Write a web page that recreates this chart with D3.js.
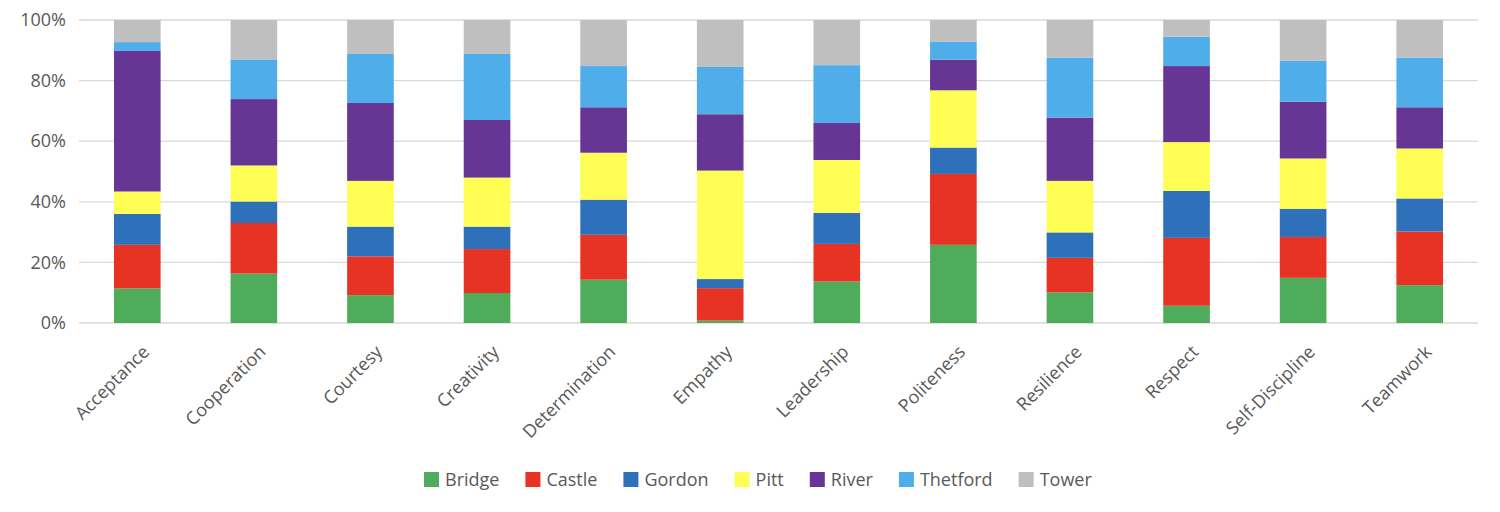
<!DOCTYPE html>
<html>
<head>
<meta charset="utf-8">
<script src="https://cdn.jsdelivr.net/npm/d3@7"></script>
<style>
  html, body { margin: 0; padding: 0; background: #ffffff; }
  svg { display: block; }
  text { font-family: "Open Sans", "Liberation Sans", sans-serif; fill: #595959; }
</style>
</head>
<body>
<svg id="chart" width="1500" height="512"></svg>
<script>
const categories = ["Acceptance", "Cooperation", "Courtesy", "Creativity", "Determination", "Empathy",
  "Leadership", "Politeness", "Resilience", "Respect", "Self-Discipline", "Teamwork"];
const seriesNames = ["Bridge", "Castle", "Gordon", "Pitt", "River", "Thetford", "Tower"];
const seriesColors = ["#4EAC5B", "#E73323", "#2F70BA", "#FEFE54", "#673695", "#4FADEA", "#BFBFBF"];

const bridge   = [11.4, 16.3,  9.2,  9.9, 14.3,  0.8, 13.7, 25.8, 10.1,  5.7, 14.9, 12.5];
const castle   = [14.4, 16.7, 12.8, 14.5, 14.8, 10.7, 12.4, 23.4, 11.4, 22.4, 13.5, 17.7];
const gordon   = [10.2,  7.1,  9.8,  7.4, 11.6,  3.0, 10.2,  8.7,  8.4, 15.5,  9.3, 10.9];
const pitt     = [ 7.4, 11.9, 15.1, 16.2, 15.5, 35.8, 17.5, 18.9, 17.0, 16.1, 16.6, 16.5];
const river    = [46.4, 21.9, 25.7, 19.0, 15.0, 18.6, 12.2, 10.1, 20.9, 25.1, 18.7, 13.6];
const thetford = [ 2.9, 13.1, 16.2, 21.8, 13.6, 15.6, 19.1,  5.9, 19.8,  9.7, 13.5, 16.4];
const tower    = [ 7.3, 13.0, 11.2, 11.2, 15.2, 15.5, 14.9,  7.2, 12.4,  5.5, 13.5, 12.4];

const yTicks = [0, 0.2, 0.4, 0.6, 0.8, 1.0];

const seriesValues = [bridge, castle, gordon, pitt, river, thetford, tower];

// build table for stack (normalised to 100%)
const table = categories.map((c, i) => {
  const row = { category: c };
  let total = 0;
  seriesNames.forEach((s, k) => { total += seriesValues[k][i]; });
  seriesNames.forEach((s, k) => { row[s] = seriesValues[k][i] / total; });
  return row;
});

const svg = d3.select("#chart");
const margin = { left: 79, right: 22, top: 20, bottom: 189 };
const W = 1500, H = 512;
const plotW = W - margin.left - margin.right;
const plotH = H - margin.top - margin.bottom;

const x = d3.scaleBand().domain(categories).range([margin.left, margin.left + plotW]).paddingInner(0.6).paddingOuter(0.3);
const y = d3.scaleLinear().domain([0, 1]).range([margin.top + plotH, margin.top]);
const color = d3.scaleOrdinal().domain(seriesNames).range(seriesColors);

// gridlines
svg.append("g").selectAll("line").data(yTicks).join("line")
  .attr("x1", margin.left).attr("x2", margin.left + plotW)
  .attr("y1", d => y(d)).attr("y2", d => y(d))
  .attr("stroke", "#d9d9d9").attr("stroke-width", 1.3);

// y axis
const yAxis = d3.axisLeft(y).tickValues(yTicks).tickFormat(d3.format(".0%")).tickSize(0).tickPadding(13);
const gy = svg.append("g").attr("transform", `translate(${margin.left},0)`).call(yAxis);
gy.select(".domain").remove();
gy.selectAll("text").style("font-size", "18px").attr("fill", "#595959");

// bars
const stacked = d3.stack().keys(seriesNames)(table);
svg.append("g").selectAll("g").data(stacked).join("g")
  .attr("fill", d => color(d.key))
  .selectAll("rect").data(d => d).join("rect")
  .attr("x", d => x(d.data.category))
  .attr("width", x.bandwidth())
  .attr("y", d => y(d[1]))
  .attr("height", d => y(d[0]) - y(d[1]));

// x axis labels
const xAxis = d3.axisBottom(x).tickSize(0).tickPadding(0);
const gx = svg.append("g").attr("transform", `translate(0,${margin.top + plotH})`).call(xAxis);
gx.select(".domain").remove();
gx.selectAll("text")
  .style("font-size", "18px")
  .attr("fill", "#595959")
  .attr("text-anchor", "end")
  .attr("dy", null)
  .attr("y", 0)
  .attr("transform", "translate(13,30) rotate(-45)");

// legend
const legend = svg.append("g").attr("transform", "translate(424,472)");
let lx = 0;
seriesNames.forEach((s) => {
  const g = legend.append("g").attr("transform", `translate(${lx},0)`);
  g.append("rect").attr("width", 15).attr("height", 15).attr("fill", color(s));
  const t = g.append("text").attr("x", 21).attr("y", 14).style("font-size", "18px").text(s);
  lx += 21 + t.node().getComputedTextLength() + 26;
});
</script>
</body>
</html>
